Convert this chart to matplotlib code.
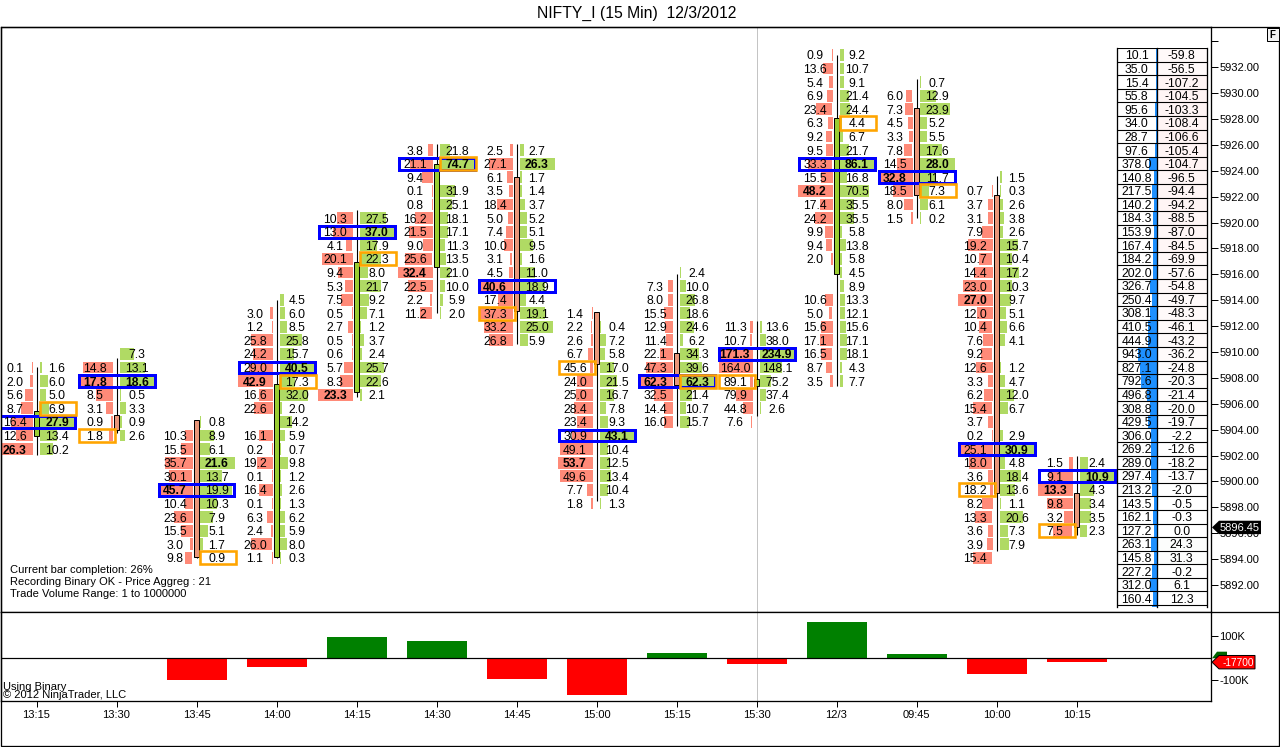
import matplotlib
matplotlib.use("Agg")
import matplotlib.pyplot as plt
from matplotlib.patches import Rectangle, Polygon
from matplotlib.lines import Line2D

plt.rcParams['font.family'] = ['Liberation Sans', 'DejaVu Sans']

W, H = 1280, 747
STEP = 80.0          # pixels between two bars
PPP = 12.95          # pixels per price point
ROW = 1.05           # price aggregation
TOP_PRICE = 5932.95  # price of first row

times = ['13:15', '13:30', '13:45', '14:00', '14:15', '14:30', '14:45',
         '15:00', '15:15', '15:30', '12/3', '09:45', '10:00', '10:15']

# first row of every footprint, counted down from TOP_PRICE
first_row = [23, 22, 27, 18, 12, 7, 7, 19, 16, 20, 0, 2, 9, 30]

bid = [
    [0.1, 2.0, 5.6, 8.7, 16.4, 12.6, 26.3],
    [None, 14.8, 17.8, 8.5, 3.1, 0.9, 1.8],
    [None, 10.3, 15.5, 35.7, 30.1, 45.7, 10.4, 23.6, 15.5, 3.0, 9.8],
    [None, 3.0, 1.2, 25.8, 24.2, 29.0, 42.9, 16.6, 22.6, None, 16.1, 0.2, 19.2, 0.1, 16.4, 0.1, 6.3, 2.4, 26.0, 1.1],
    [10.3, 13.0, 4.1, 20.1, 9.4, 5.3, 7.5, 0.5, 2.7, 0.5, 0.6, 5.7, 8.3, 23.3],
    [3.8, 21.1, 9.4, 0.1, 0.8, 16.2, 21.5, 9.0, 25.6, 32.4, 22.5, 2.2, 11.2],
    [2.5, 27.1, 6.1, 3.5, 18.4, 5.0, 7.4, 10.0, 3.1, 4.5, 40.6, 17.4, 37.3, 33.2, 26.8],
    [1.4, 2.2, 2.6, 6.7, 45.6, 24.0, 25.0, 28.4, 23.4, 30.9, 49.1, 53.7, 49.6, 7.7, 1.8],
    [None, 7.3, 8.0, 15.5, 12.9, 11.4, 22.1, 47.3, 62.3, 32.5, 14.4, 16.0],
    [11.3, 10.7, 171.3, 164.0, 89.1, 79.9, 44.8, 7.6],
    [0.9, 13.6, 5.4, 6.9, 23.4, 6.3, 9.2, 9.5, 33.3, 15.5, 48.2, 17.4, 24.2, 9.9, 9.4, 2.0, None, None, 10.6, 5.0, 15.6, 17.1, 16.5, 8.7, 3.5],
    [None, 6.0, 7.3, 4.5, 3.3, 7.8, 14.5, 32.8, 18.5, 8.0, 1.5],
    [None, 0.7, 3.7, 3.1, 7.9, 19.2, 10.7, 14.4, 23.0, 27.0, 12.0, 10.4, 7.6, 9.2, 12.6, 3.3, 6.2, 15.4, 3.7, 0.2, 25.1, 18.0, 3.6, 18.2, 8.2, 13.3, 3.6, 3.9, 15.4],
    [1.5, 9.1, 13.3, 9.8, 3.2, 7.5],
]
ask = [
    [1.6, 6.0, 5.0, 6.9, 27.9, 13.4, 10.2],
    [7.3, 13.1, 18.6, 0.5, 3.3, 0.9, 2.6],
    [0.8, 8.9, 6.1, 21.6, 13.7, 19.9, 10.3, 7.9, 5.1, 1.7, 0.9],
    [4.5, 6.0, 8.5, 25.8, 15.7, 40.5, 17.3, 32.0, 2.0, 14.2, 5.9, 0.7, 9.8, 1.2, 2.6, 1.3, 6.2, 5.9, 8.0, 0.3],
    [27.5, 37.0, 17.9, 22.3, 8.0, 21.7, 9.2, 7.1, 1.2, 3.7, 2.4, 25.7, 22.6, 2.1],
    [21.8, 74.7, None, 31.9, 25.1, 18.1, 17.1, 11.3, 13.5, 21.0, 10.0, 5.9, 2.0],
    [2.7, 26.3, 1.7, 1.4, 3.7, 5.2, 5.1, 9.5, 1.6, 11.0, 18.9, 4.4, 19.1, 25.0, 5.9],
    [None, 0.4, 7.2, 5.8, 17.0, 21.5, 16.7, 7.8, 9.3, 43.1, 10.4, 12.5, 13.4, 10.4, 1.3],
    [2.4, 10.0, 26.8, 18.6, 24.6, 6.2, 34.3, 39.6, 62.3, 21.4, 10.7, 15.7],
    [13.6, 38.0, 234.9, 148.1, 75.2, 37.4, 2.6, None],
    [9.2, 10.7, 9.1, 21.4, 24.4, 4.4, 6.7, 21.7, 86.1, 16.8, 70.5, 35.5, 35.5, 5.8, 13.8, 5.8, 4.5, 8.9, 13.3, 12.1, 15.6, 17.1, 18.1, 4.3, 7.7],
    [0.7, 12.9, 23.9, 5.2, 5.5, 17.6, 28.0, 11.7, 7.3, 6.1, 0.2],
    [1.5, 0.3, 2.6, 3.8, 2.6, 15.7, 10.4, 17.2, 10.3, 9.7, 5.1, 6.6, 4.1, None, 1.2, 4.7, 12.0, 6.7, None, 2.9, 30.9, 4.8, 18.4, 13.6, 1.1, 20.6, 7.3, 7.9, None],
    [2.4, 10.9, 4.3, 3.4, 3.5, 2.3],
]

opens = [5903.48, 5905.13, 5904.76, 5894.16, 5906.95, 5916.56, 5923.55,
         5913.08, 5909.92, 5907.39, 5916.02, 5928.83, 5922.14, 5899.10]
closes = [5905.46, 5903.99, 5894.19, 5907.54, 5916.97, 5924.51, 5913.18,
          5909.07, 5907.47, 5907.91, 5928.06, 5922.12, 5899.10, 5896.45]
highs = [5908.86, 5909.55, 5904.76, 5914.03, 5920.98, 5926.08, 5926.08,
         5913.08, 5916.04, 5912.41, 5932.95, 5931.07, 5923.61, 5901.98]
lows = [5902.06, 5903.76, 5894.10, 5894.10, 5906.49, 5913.05, 5910.63,
        5898.46, 5904.25, 5905.07, 5907.34, 5920.36, 5894.59, 5895.88]

# orange box: row of the close and side of the close
close_row = [26, 28, 37, 24, 15, 8, 19, 23, 24, 24, 5, 10, 32, 35]
close_side = ['ask', 'bid', 'ask', 'ask', 'ask', 'ask', 'bid', 'bid', 'ask', 'bid', 'ask', 'ask', 'bid', 'bid']
close_blank = [False, False, False, False, False, False, False, True, False, True, False, False, True, False]

delta_k = [0, 0, -98, -40, 97, 79, -94, -167, 24, -26, 165, 19, -71, -17.7]

tbl_vol = [10.1, 35.0, 15.4, 55.8, 95.6, 34.0, 28.7, 97.6, 378.0, 140.8, 217.5, 140.2, 184.3, 153.9,
           167.4, 184.2, 202.0, 326.7, 250.4, 308.1, 410.5, 444.9, 943.0, 827.1, 792.6, 496.8, 308.8,
           429.5, 306.0, 269.2, 289.0, 297.4, 213.2, 143.5, 162.1, 127.2, 263.1, 145.8, 227.2, 312.0,
           160.4, 256.0]
tbl_delta = [-59.8, -56.5, -107.2, -104.5, -103.3, -108.4, -106.6, -105.4, -104.7, -96.5, -94.4, -94.2,
             -88.5, -87.0, -84.5, -69.9, -57.6, -54.8, -49.7, -48.3, -46.1, -43.2, -36.2, -24.8, -20.3,
             -21.4, -20.0, -19.7, -2.2, -12.6, -18.2, -13.7, -2.0, -0.5, -0.3, 0.0, 24.3, 31.3, -0.2,
             6.1, 12.3, 13.3]

BID_C = '#ff8a78'
ASK_C = '#b0da64'
UP_C = '#9acd32'
DOWN_C = '#e9967a'
FS = 8.0     # axis and note text
FS_CELL = 8.7  # footprint and table numbers
PX = 0.72  # one pixel as points at dpi 100


def price_of(row):
    return TOP_PRICE - ROW * row


fig = plt.figure(figsize=(W / 100, H / 100), dpi=100, facecolor='white')

# main panel
ax = fig.add_axes([1 / W, 1 - 612 / H, 1210 / W, 585 / H])
ax.set_xlim((1 - 36.5) / STEP, (1211 - 36.5) / STEP)
ax.set_ylim(5932 - (612.3 - 67.3) / PPP, 5932 + (67.3 - 27) / PPP)
ax.axvline(9, color='#c4c4c4', lw=PX, zorder=0)

for i in range(len(times)):
    max_b = max(v for v in bid[i] if v is not None)
    max_a = max(v for v in ask[i] if v is not None)
    totals = [(b or 0) + (a or 0) for b, a in zip(bid[i], ask[i])]
    poc = totals.index(max(totals))
    for j, (b, a) in enumerate(zip(bid[i], ask[i])):
        p = price_of(first_row[i] + j)
        if b is not None:
            w = max(35 * b / max_b, 1.0)
            blank = close_blank[i] and close_side[i] == 'bid' and close_row[i] == first_row[i] + j
            if blank:
                w = 3.0
            ax.barh(p, w / STEP, left=i - (4 + w) / STEP, height=11.8 / PPP, color=BID_C, lw=0, zorder=1)
            ax.text(i - 21.5 / STEP, p, '%.1f' % b, ha='center', va='center_baseline', fontsize=FS_CELL,
                    fontweight='bold' if b == max_b else 'normal', zorder=6)
        if a is not None:
            w = max(35 * a / max_a, 1.0)
            ax.barh(p, w / STEP, left=i + 3.5 / STEP, height=11.8 / PPP, color=ASK_C, lw=0, zorder=1)
            ax.text(i + 20.5 / STEP, p, '%.1f' % a, ha='center', va='center_baseline', fontsize=FS_CELL,
                    fontweight='bold' if a == max_a else 'normal', zorder=6)

    # candle
    ax.vlines(i, lows[i], highs[i], color='black', lw=PX * 1.1, zorder=3)
    up = closes[i] >= opens[i]
    ax.add_patch(Rectangle((i - 2.5 / STEP, min(opens[i], closes[i])), 5 / STEP, abs(closes[i] - opens[i]),
                           facecolor=UP_C if up else DOWN_C, edgecolor='black', lw=PX, zorder=3))

    # point of control
    p = price_of(first_row[i] + poc)
    ax.add_patch(Rectangle((i - 38 / STEP, p - 5.9 / PPP), 76 / STEP, 11.8 / PPP, fill=False,
                           edgecolor='#0000ff', lw=3 * PX, zorder=4))
    # close box
    p = price_of(close_row[i])
    x0 = i - 38 / STEP if close_side[i] == 'bid' else i + 3 / STEP
    ax.add_patch(Rectangle((x0, p - 6.6 / PPP), 36 / STEP, 13.2 / PPP, fill=False,
                           edgecolor='#ffa500', lw=2.6 * PX, zorder=5))

ax.yaxis.tick_right()
ax.set_yticks(list(range(5892, 5936, 2)))
ax.set_yticklabels(['%.2f' % v for v in range(5892, 5934, 2)] + [''])
ax.tick_params(axis='y', length=7 * PX, width=PX, pad=1, labelsize=FS)
ax.set_xticks([])
for s in ax.spines.values():
    s.set_linewidth(PX * 1.3)

# last price flag
wpx = 1210.0
y_last = closes[-1]
h = 6.7 / PPP
ax.add_patch(Polygon([(1 + 1 / wpx, y_last), (1 + 8 / wpx, y_last + h), (1 + 50 / wpx, y_last + h),
                      (1 + 50 / wpx, y_last - h), (1 + 8 / wpx, y_last - h)],
                     transform=ax.get_yaxis_transform(), clip_on=False, facecolor='black', edgecolor='black',
                     lw=0, zorder=8))
ax.text(1 + 9 / wpx, y_last, '%.2f' % y_last, transform=ax.get_yaxis_transform(), color='white', fontsize=FS,
        ha='left', va='center_baseline', clip_on=False, zorder=9)

for y, s in [(570, 'Current bar completion: 26%'),
             (582, 'Recording Binary OK - Price Aggreg : 21'),
             (594, 'Trade Volume Range: 1 to 1000000')]:
    fig.text(9.5 / W, 1 - y / H, s, fontsize=FS, ha='left', va='center', zorder=7)

# delta panel
ax2 = fig.add_axes([1 / W, 1 - 701.3 / H, 1210 / W, 89 / H])
ax2.set_xlim(ax.get_xlim())
ax2.set_ylim(-195.5, 209)
ax2.axvline(9, color='#c4c4c4', lw=PX, zorder=0)
ax2.bar(range(len(times)), delta_k, width=60 / STEP, color=['#008000' if d > 0 else '#ff0000' for d in delta_k],
        lw=0, zorder=2)
ax2.axhline(0, color='black', lw=PX * 1.2, zorder=3)
ax2.yaxis.tick_right()
ax2.set_yticks([100, -100])
ax2.set_yticklabels(['100K', '-100K'])
ax2.set_xticks(range(len(times)))
ax2.set_xticklabels(times)
ax2.tick_params(axis='y', length=7 * PX, width=PX, pad=1, labelsize=FS)
ax2.tick_params(axis='x', length=6 * PX, width=PX, pad=2, labelsize=FS)
for s in ax2.spines.values():
    s.set_linewidth(PX * 1.3)

last_d = delta_k[-1]
hk = 6.7 / 22 * 100
ax2.add_patch(Polygon([(1 + 1 / wpx, 0), (1 + 6 / wpx, 30), (1 + 16 / wpx, 30), (1 + 16 / wpx, 0)],
                      transform=ax2.get_yaxis_transform(), clip_on=False, facecolor='#006400', lw=0, zorder=7))
ax2.add_patch(Polygon([(1 + 1 / wpx, last_d), (1 + 8 / wpx, last_d + hk), (1 + 44 / wpx, last_d + hk),
                       (1 + 44 / wpx, last_d - hk), (1 + 8 / wpx, last_d - hk)],
                      transform=ax2.get_yaxis_transform(), clip_on=False, facecolor='#ff0000', edgecolor='black',
                      lw=PX, zorder=8))
ax2.text(1 + 12 / wpx, last_d, '%d' % (last_d * 1000), transform=ax2.get_yaxis_transform(), color='white',
         fontsize=7.3, ha='left', va='center_baseline', clip_on=False, zorder=9)
fig.text(3 / W, 1 - 686.5 / H, 'Using Binary', fontsize=FS, ha='left', va='center', zorder=7)
fig.text(3 / W, 1 - 695.5 / H, '\u00a9 2012 NinjaTrader, LLC', fontsize=FS, ha='left', va='center', zorder=7)

# table at the right
tb = fig.add_axes([1116.7 / W, 1 - 607 / H, 90 / W, (607 - 48.3) / H], zorder=5)
tb.set_xlim(0, 90)
tb.set_ylim((607 - 55) / 13.58, -0.49)
tb.axis('off')
max_vol = max(tbl_vol)
max_abs = max(abs(v) for v in tbl_delta)
for k, (v, d) in enumerate(zip(tbl_vol, tbl_delta)):
    w = max(19 * v / max_vol, 1.0)
    tb.barh(k, w, left=40 - w, height=1, color='#1e90ff', lw=0, zorder=1)
    tint = (1.0, 0.0, 0.0) if d < 0 else (0.0, 0.6, 0.0)
    tb.barh(k, 50, left=40, height=1, color=tint, alpha=0.045 * abs(d) / max_abs, lw=0, zorder=1)
    tb.text(20, k, '%.1f' % v, ha='center', va='center_baseline', fontsize=FS_CELL, zorder=3, clip_on=True)
    tb.text(65, k, '%.1f' % d, ha='center', va='center_baseline', fontsize=FS_CELL, zorder=3, clip_on=True)
    tb.axhline(k - 0.5, color='black', lw=PX * 1.1, zorder=2)
for x in (0, 40, 90):
    tb.plot([x, x], [-0.49, (607 - 55) / 13.58], color='black', lw=PX * 1.3, clip_on=False, zorder=2)

# outer frame, title, F box
fig.add_artist(Rectangle((0.5 / W, 1 - 745.5 / H), 1278 / W, 718.5 / H, transform=fig.transFigure, fill=False,
                         edgecolor='black', lw=PX * 1.3))
fig.add_artist(Line2D([1211 / W, 1280 / W], [1 - 612.3 / H, 1 - 612.3 / H], color='black', lw=PX * 1.3))
fig.text(636.5 / W, 1 - 13 / H, 'NIFTY_I (15 Min)  12/3/2012', fontsize=11.3, ha='center', va='center')
fig.add_artist(Rectangle((1266.5 / W, 1 - 41 / H), 12 / W, 13 / H, transform=fig.transFigure, facecolor='#f4f4f4',
                         edgecolor='black', lw=PX))
fig.text(1272.5 / W, 1 - 34.5 / H, 'F', fontsize=7, fontweight='bold', ha='center', va='center')

fig.savefig('out.png', dpi=100)
